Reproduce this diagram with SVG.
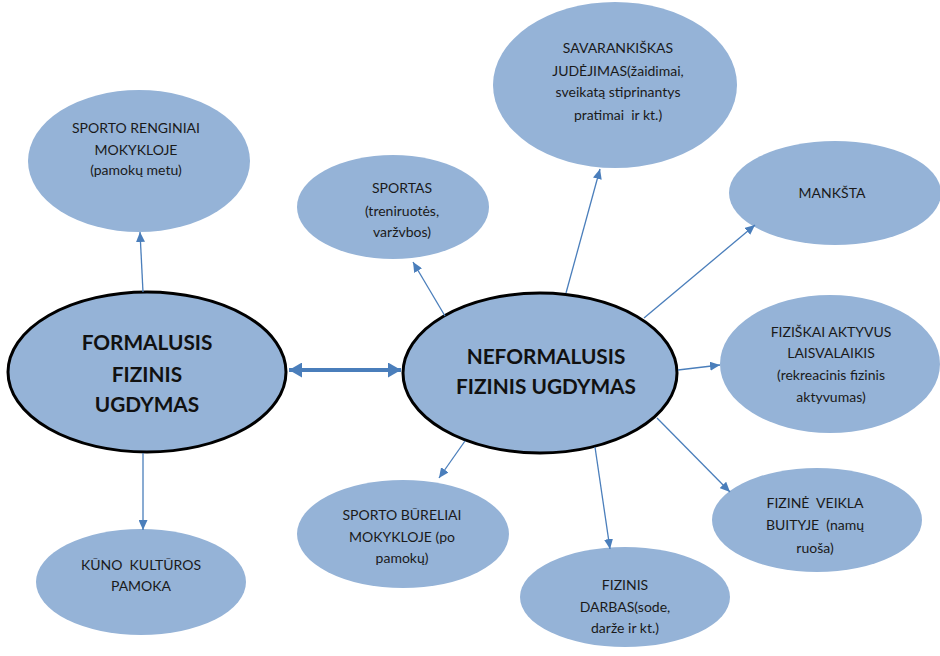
<svg xmlns="http://www.w3.org/2000/svg" width="940" height="656" viewBox="0 0 940 656">
  <style>
    .bg { fill: #ffffff; }
    .main { fill: #95b3d7; stroke: #000000; stroke-width: 3; }
    .sub { fill: #95b3d7; stroke: none; }
    .big { font-family: "Lato", "Liberation Sans", sans-serif; font-weight: bold; font-size: 20.8px; fill: #111111; text-anchor: middle; }
    .small { font-family: "Lato", "Liberation Sans", sans-serif; font-size: 14px; fill: #1a1a1a; text-anchor: middle; white-space: pre; }
    .link { stroke: #4a7ebb; stroke-width: 1.3; fill: none; marker-end: url(#head); }
    .dbl { stroke: #4a7ebb; stroke-width: 4; fill: none; marker-start: url(#bighead-start); marker-end: url(#bighead); }
  </style>
  <defs>
    <marker id="head" markerUnits="userSpaceOnUse" markerWidth="11" markerHeight="9" refX="10" refY="4.5" orient="auto">
      <path d="M0,0 L10,4.5 L0,9 Z" fill="#4a7ebb"/>
    </marker>
    <marker id="bighead" markerUnits="userSpaceOnUse" markerWidth="14" markerHeight="15" refX="13" refY="7.5" orient="auto">
      <path d="M0,0 L13,7.5 L0,15 Z" fill="#4a7ebb"/>
    </marker>
    <marker id="bighead-start" markerUnits="userSpaceOnUse" markerWidth="14" markerHeight="15" refX="0" refY="7.5" orient="auto">
      <path d="M13,0 L0,7.5 L13,15 Z" fill="#4a7ebb"/>
    </marker>
  </defs>

  <rect class="bg" x="0" y="0" width="940" height="656"/>

  <g id="formalusis">
    <ellipse class="main" cx="147" cy="372" rx="139" ry="80"/>
    <text class="big" x="147" y="350">FORMALUSIS</text>
    <text class="big" x="147" y="382">FIZINIS</text>
    <text class="big" x="147" y="412">UGDYMAS</text>
  </g>

  <g id="neformalusis">
    <ellipse class="main" cx="540" cy="373" rx="137" ry="80"/>
    <text class="big" x="546" y="364">NEFORMALUSIS</text>
    <text class="big" x="546" y="394">FIZINIS UGDYMAS</text>
  </g>

  <g id="sporto-renginiai">
    <ellipse class="sub" cx="139" cy="161" rx="111" ry="71"/>
    <text class="small" x="136" y="133">SPORTO RENGINIAI</text>
    <text class="small" x="136" y="155">MOKYKLOJE</text>
    <text class="small" x="136" y="175">(pamokų metu)</text>
  </g>

  <g id="kuno-kultura">
    <ellipse class="sub" cx="141" cy="582" rx="105" ry="53"/>
    <text class="small" x="141" y="570">KŪNO  KULTŪROS</text>
    <text class="small" x="141" y="591">PAMOKA</text>
  </g>

  <g id="sportas">
    <ellipse class="sub" cx="393" cy="207" rx="96" ry="52"/>
    <text class="small" x="402" y="193">SPORTAS</text>
    <text class="small" x="402" y="216">(treniruotės,</text>
    <text class="small" x="402" y="237">varžvbos)</text>
  </g>

  <g id="savarankiskas">
    <ellipse class="sub" cx="615" cy="85" rx="122" ry="83"/>
    <text class="small" x="618" y="53">SAVARANKIŠKAS</text>
    <text class="small" x="618" y="76">JUDĖJIMAS(žaidimai,</text>
    <text class="small" x="618" y="97">sveikatą stiprinantys</text>
    <text class="small" x="618" y="120">pratimai  ir kt.)</text>
  </g>

  <g id="manksta">
    <ellipse class="sub" cx="835" cy="193" rx="106" ry="52"/>
    <text class="small" x="832" y="198">MANKŠTA</text>
  </g>

  <g id="laisvalaikis">
    <ellipse class="sub" cx="830" cy="364" rx="110" ry="69"/>
    <text class="small" x="831" y="337">FIZIŠKAI AKTYVUS</text>
    <text class="small" x="831" y="358">LAISVALAIKIS</text>
    <text class="small" x="831" y="380">(rekreacinis fizinis</text>
    <text class="small" x="831" y="402">aktyvumas)</text>
  </g>

  <g id="buitis">
    <ellipse class="sub" cx="817" cy="520" rx="105" ry="52"/>
    <text class="small" x="815" y="508">FIZINĖ  VEIKLA</text>
    <text class="small" x="815" y="530">BUITYJE  (namų</text>
    <text class="small" x="815" y="553">ruoša)</text>
  </g>

  <g id="fizinis-darbas">
    <ellipse class="sub" cx="625" cy="597" rx="105" ry="50"/>
    <text class="small" x="625" y="590">FIZINIS</text>
    <text class="small" x="625" y="612">DARBAS(sode,</text>
    <text class="small" x="625" y="633">darže ir kt.)</text>
  </g>

  <g id="sporto-bureliai">
    <ellipse class="sub" cx="403" cy="534" rx="106" ry="54"/>
    <text class="small" x="402" y="520">SPORTO BŪRELIAI</text>
    <text class="small" x="402" y="542">MOKYKLOJE (po</text>
    <text class="small" x="402" y="563">pamokų)</text>
  </g>

  <g id="connectors">
    <line class="dbl" x1="289" y1="370" x2="401" y2="370"/>
    <line class="link" x1="143" y1="292" x2="140" y2="232"/>
    <line class="link" x1="143" y1="453" x2="143" y2="530"/>
    <line class="link" x1="445" y1="316" x2="413" y2="262"/>
    <line class="link" x1="566" y1="293" x2="600" y2="169"/>
    <line class="link" x1="644" y1="318" x2="755" y2="225"/>
    <line class="link" x1="678" y1="370" x2="720" y2="365"/>
    <line class="link" x1="657" y1="418" x2="730" y2="492"/>
    <line class="link" x1="595" y1="447" x2="610" y2="549"/>
    <line class="link" x1="465" y1="441" x2="439" y2="478"/>
  </g>
</svg>
